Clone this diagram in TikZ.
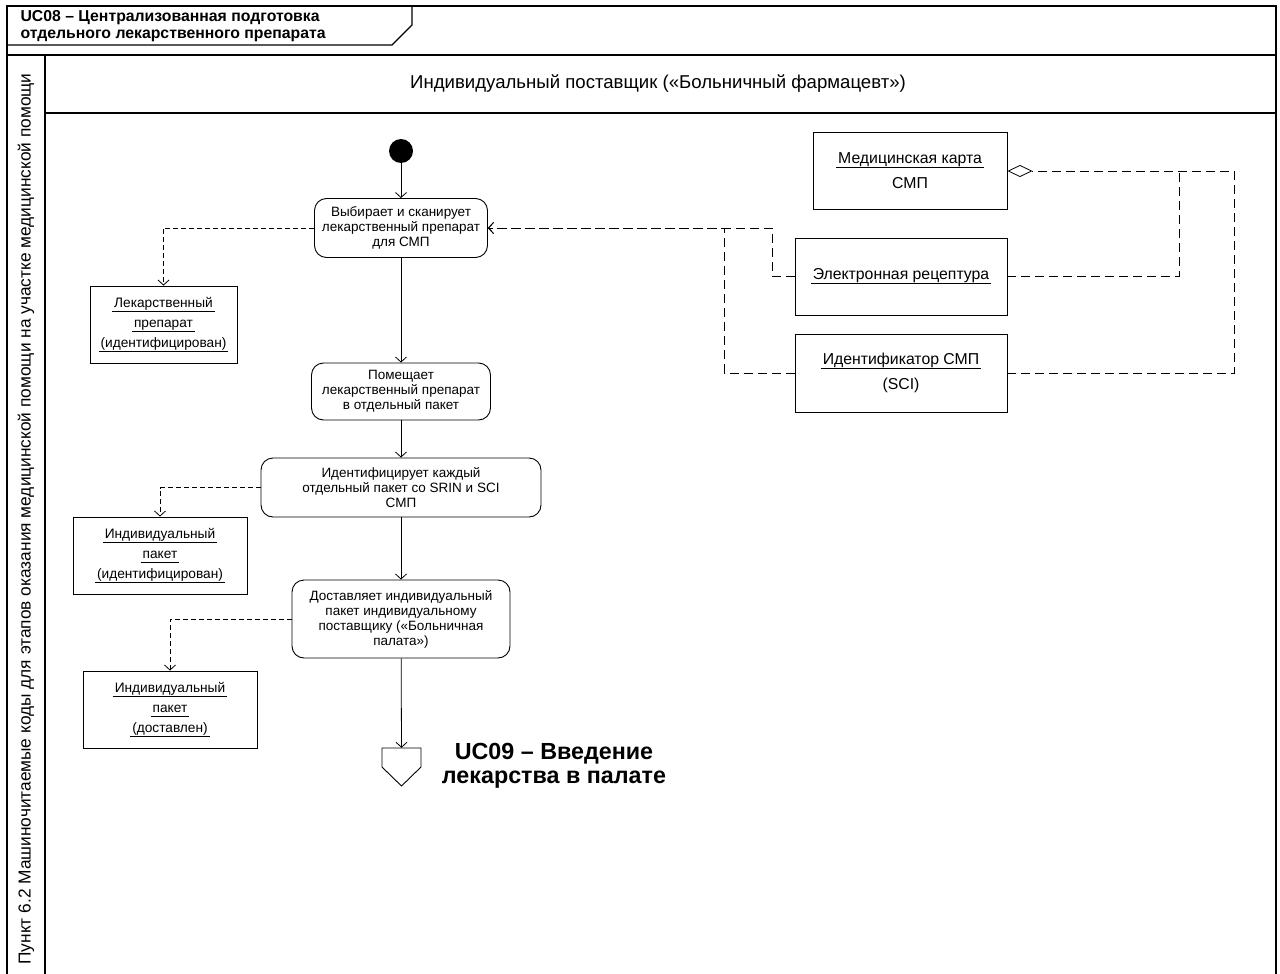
\documentclass[tikz,border=0pt]{standalone}
\usepackage{fontspec}
\setmainfont{Liberation Sans}
\usetikzlibrary{arrows.meta}
\newcommand\myul[1]{\setbox0=\hbox{#1}\rlap{\kern-2pt\rule[-4.5pt]{\dimexpr\wd0+4pt\relax}{0.9pt}}\box0}
\begin{document}
\begin{tikzpicture}[x=1pt,y=-1pt,
  frame/.style={line width=1.4pt},
  act/.style={draw, rounded corners=12pt, line width=0.9pt, align=center, inner sep=0pt,
    font=\fontsize{13.5}{15}\selectfont},
  objl/.style={draw, line width=0.9pt, align=center, inner sep=0pt,
    minimum width=174pt, minimum height=77pt, font=\fontsize{13.7}{20}\selectfont},
  objr/.style={draw, line width=0.9pt, align=center, inner sep=0pt,
    minimum height=77pt, font=\fontsize{15.8}{25}\selectfont},
  flow/.style={-{Straight Barb[length=5pt,width=11pt]}, line width=0.8pt},
  depl/.style={dash pattern=on 5pt off 3pt, line width=0.8pt},
  depr/.style={dash pattern=on 9pt off 5pt, line width=0.8pt},
  tip/.style={-{Straight Barb[length=5pt,width=11pt]}}
]
\useasboundingbox (0,0) rectangle (1280,974);
% frame
\draw[frame] (7,974) -- (7,6) -- (1276,6) -- (1276,974);
\draw[frame] (7,55) -- (1276,55);
\draw[frame] (45,55) -- (45,974);
\draw[frame] (45,113) -- (1276,113);
\draw[frame] (7,45) -- (392,45) -- (412,25) -- (412,6);
\node[anchor=west, align=left, font=\bfseries\fontsize{15.8}{17}\selectfont] (title) at (17,26)
  {UC08 – Централизованная подготовка\\отдельного лекарственного препарата};
\node[font=\fontsize{18.6}{21}\selectfont] (lane) at (658,84)
  {Индивидуальный поставщик («Больничный фармацевт»)};
\node[rotate=90, font=\fontsize{17.3}{20}\selectfont] (side) at (26,519)
  {Пункт 6.2 Машиночитаемые коды для этапов оказания медицинской помощи на участке медицинской помощи};
% activities
\node[circle, fill=black, minimum size=24pt, inner sep=0pt] (init) at (401,151) {};
\node[act, minimum width=173pt, minimum height=59pt] (a1) at (401,228)
  {Выбирает и сканирует\\лекарственный препарат\\для СМП};
\node[act, minimum width=179pt, minimum height=57pt] (a2) at (401,391.5)
  {Помещает\\лекарственный препарат\\в отдельный пакет};
\node[act, minimum width=280pt, minimum height=59pt] (a3) at (401,487.5)
  {Идентифицирует каждый\\отдельный пакет со SRIN и SCI\\СМП};
\node[act, minimum width=218pt, minimum height=78pt] (a4) at (401,619)
  {Доставляет индивидуальный\\пакет индивидуальному\\поставщику («Больничная\\палата»)};
\node[minimum width=39pt, minimum height=38pt, inner sep=0pt] (endc) at (401.5,767) {};
\draw[line width=0.9pt] (382,748) -- (421,748) -- (421,767) -- (401.5,786) -- (382,767) -- cycle;
\node[align=center, font=\bfseries\fontsize{23.3}{24}\selectfont] (uc09) at (554,766)
  {UC09 – Введение\\лекарства в палате};
\draw[flow] (init) -- (a1);
\draw[flow] (a1) -- (a2);
\draw[flow] (a2) -- (a3);
\draw[flow] (a3) -- (a4);
\draw[flow] (a4) -- (endc.north);
% left objects
\node[objl, minimum width=147pt] (o1) at (163.5,324.5)
  {\myul{Лекарственный}\\\myul{препарат}\\\myul{(идентифицирован)}};
\node[objl] (o2) at (160,555.5)
  {\myul{Индивидуальный}\\\myul{пакет}\\\myul{(идентифицирован)}};
\node[objl] (o3) at (170,709.5)
  {\myul{Индивидуальный}\\\myul{пакет}\\\myul{(доставлен)}};
\draw[depl, tip] (a1.west) -| (o1.north);
\draw[depl, tip] (a3.west) -| (o2.north);
\draw[depl, tip] (a4.west) -| (o3.north);
% right objects
\node[objr, minimum width=194pt] (r1) at (910,171)
  {\myul{Медицинская карта}\\СМП};
\node[objr, minimum width=212pt] (r2) at (901,276.5)
  {\myul{Электронная рецептура}};
\node[objr, minimum width=212pt, minimum height=78pt] (r3) at (901,373)
  {\myul{Идентификатор СМП}\\(SCI)};
\draw[depr, tip] (r2.west) -- ++(-22,0) |- (a1.east);
\draw[depr, tip] (r3.west) -- ++(-70,0) |- (a1.east);
\coordinate (agg) at (1234,171);
\coordinate (j1) at (1179,171);
\draw[depr, -{Diamond[open,length=25pt,width=12pt]}] (r3.east) -| (agg) -- (r1.east);
\draw[depr] (r2.east) -| (j1);
\end{tikzpicture}
\end{document}
